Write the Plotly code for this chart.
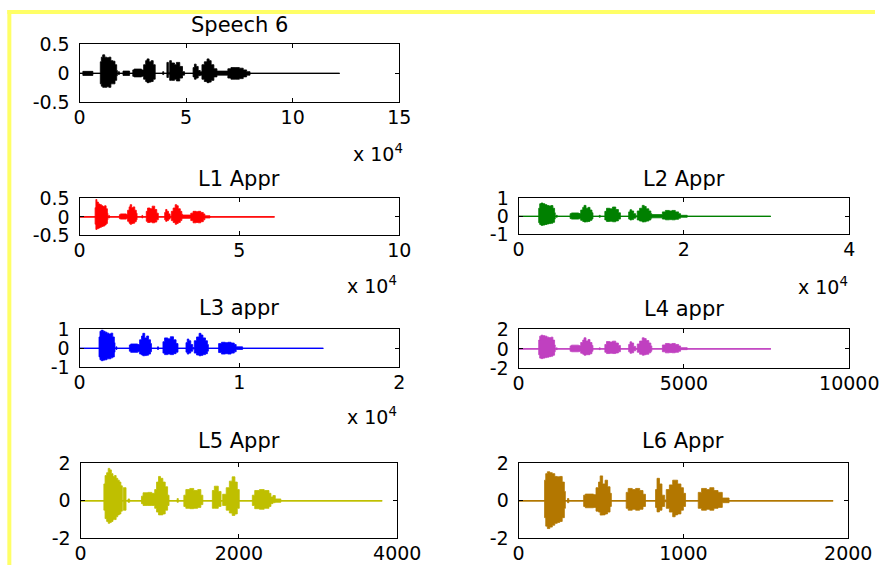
import plotly.graph_objects as go

# calibration: the photographed page shows the figure slightly scaled after the body margin
SX, SY = 0.958, 0.962
MX, MY = 8, 11
W, H = 905, 576

# ---------------- data (envelopes) ----------------
# Speech 6 (samples, amplitude)
sp_len = 122000
sp_x  = [0, 1570, 6270, 9760, 10240, 10880, 11840, 12800, 13760, 14720, 15680, 16640, 17440, 17760, 18240, 18720,
         20400, 23500, 25000, 25600, 29120, 30080, 31040, 31680, 32640, 33600, 34560, 35520, 39040, 39520,
         41000, 41700, 42300, 43100, 44560, 45440, 47040, 48320, 49280, 53280, 53920, 54720, 55680, 56640,
         57440, 58560, 59840, 60800, 61760, 63040, 64480, 69600, 71040, 73000, 75000, 76800, 78400, 80000]
sp_up = [0, 0.035, 0, 0.2, 0.28, 0.32, 0.28, 0.27, 0.28, 0.22, 0.21, 0.15, 0.05, 0, 0.03, 0,
         0.04, 0, 0.06, 0.075, 0.06, 0.15, 0.22, 0.25, 0.2, 0.22, 0.15, 0, 0.03, 0,
         0.19, 0.02, 0.22, 0.18, 0.15, 0.19, 0.12, 0.03, 0, 0.1, 0.16, 0.12, 0.05, 0.03,
         0.15, 0.2, 0.25, 0.22, 0.15, 0.08, 0.04, 0.08, 0.1, 0.1, 0.09, 0.06, 0.03, 0]
sp_lo = [0, -0.035, 0, -0.18, -0.22, -0.24, -0.24, -0.23, -0.24, -0.18, -0.18, -0.12, -0.04, 0, -0.02, 0,
         -0.035, 0, -0.05, -0.06, -0.05, -0.1, -0.14, -0.16, -0.15, -0.14, -0.1, 0, -0.02, 0,
         -0.07, -0.02, -0.12, -0.12, -0.1, -0.13, -0.08, -0.03, 0, -0.06, -0.1, -0.08, -0.04, -0.03,
         -0.1, -0.14, -0.16, -0.15, -0.12, -0.06, -0.03, -0.08, -0.1, -0.1, -0.09, -0.06, -0.03, 0]

# L1 approximation
l1_len = 61000
l1_x  = [0, 4880, 5120, 5440, 5920, 6400, 6880, 7360, 7840, 8320, 8720, 8880, 9120, 9360,
         12480, 12800, 14560, 15040, 15520, 15840, 16320, 16800, 17280, 17760, 18000, 19520, 19760,
         20880, 21280, 22080, 22720, 23520, 24160, 24640, 26640, 26960, 27360, 27840, 28320,
         28720, 29280, 29920, 30400, 30880, 31520, 32000, 32240, 34800, 35520, 36480, 37120, 37920,
         38720, 39200, 40800]
l1_up = [0, 0.25, 0.47, 0.4, 0.35, 0.33, 0.3, 0.28, 0.3, 0.22, 0.1, 0, 0.04, 0,
         0.06, 0.08, 0.07, 0.18, 0.27, 0.33, 0.25, 0.27, 0.18, 0.1, 0, 0.04, 0,
         0.15, 0.24, 0.22, 0.29, 0.2, 0.1, 0, 0.12, 0.2, 0.15, 0.08, 0.02,
         0.15, 0.24, 0.33, 0.3, 0.22, 0.15, 0.07, 0.05, 0.1, 0.15, 0.14, 0.15, 0.12,
         0.08, 0.03, 0]
l1_lo = [0, -0.2, -0.34, -0.32, -0.3, -0.28, -0.26, -0.25, -0.22, -0.18, -0.08, 0, -0.03, 0,
         -0.05, -0.06, -0.05, -0.12, -0.17, -0.2, -0.18, -0.17, -0.13, -0.08, 0, -0.03, 0,
         -0.12, -0.15, -0.14, -0.16, -0.14, -0.08, 0, -0.08, -0.12, -0.1, -0.06, -0.02,
         -0.1, -0.15, -0.2, -0.18, -0.15, -0.1, -0.05, -0.04, -0.1, -0.16, -0.15, -0.16, -0.13,
         -0.08, -0.03, 0]

# L2 approximation
l2_len = 30500
l2_x  = [0, 2440, 2560, 2720, 2960, 3200, 3440, 3680, 3920, 4160, 4360, 4440, 4560, 4680,
         6240, 6400, 7280, 7520, 7760, 7920, 8160, 8400, 8640, 8880, 9000, 9760, 9880,
         10440, 10640, 11040, 11360, 11760, 12080, 12320, 13320, 13480, 13680, 13920, 14160,
         14360, 14640, 14960, 15200, 15440, 15760, 16000, 16120, 17400, 17760, 18240, 18560,
         18960, 19360, 19600, 20400]
l2_up = [0, 0.45, 0.7, 0.74, 0.7, 0.65, 0.6, 0.58, 0.6, 0.45, 0.2, 0, 0.06, 0,
         0.15, 0.19, 0.16, 0.35, 0.5, 0.61, 0.45, 0.5, 0.35, 0.2, 0, 0.06, 0,
         0.28, 0.45, 0.42, 0.52, 0.38, 0.2, 0, 0.25, 0.37, 0.3, 0.15, 0.03,
         0.3, 0.45, 0.61, 0.55, 0.42, 0.3, 0.15, 0.1, 0.25, 0.33, 0.3, 0.33,
         0.25, 0.15, 0.06, 0]
l2_lo = [0, -0.35, -0.45, -0.5, -0.48, -0.45, -0.42, -0.4, -0.38, -0.33, -0.15, 0, -0.05, 0,
         -0.12, -0.15, -0.13, -0.22, -0.28, -0.31, -0.3, -0.28, -0.22, -0.14, 0, -0.05, 0,
         -0.2, -0.28, -0.27, -0.3, -0.25, -0.15, 0, -0.15, -0.2, -0.18, -0.1, -0.03,
         -0.2, -0.26, -0.31, -0.3, -0.26, -0.2, -0.1, -0.08, -0.15, -0.19, -0.18, -0.19,
         -0.16, -0.1, -0.05, 0]

# L3 approximation
l3_len = 15250
l3_x  = [0, 1220, 1280, 1360, 1480, 1600, 1720, 1840, 1960, 2080, 2180, 2220, 2280, 2340,
         3120, 3200, 3640, 3760, 3880, 3960, 4080, 4200, 4320, 4440, 4500, 4880, 4940,
         5220, 5320, 5520, 5680, 5880, 6040, 6160, 6660, 6740, 6840, 6960, 7080,
         7180, 7320, 7480, 7600, 7720, 7880, 8000, 8060, 8700, 8880, 9120, 9280,
         9480, 9680, 9800, 10200]
l3_up = [0, 0.6, 0.9, 0.96, 0.9, 0.85, 0.8, 0.75, 0.8, 0.6, 0.3, 0, 0.08, 0,
         0.18, 0.23, 0.2, 0.45, 0.65, 0.79, 0.55, 0.65, 0.45, 0.25, 0, 0.08, 0,
         0.35, 0.55, 0.5, 0.61, 0.45, 0.25, 0, 0.3, 0.49, 0.4, 0.2, 0.04,
         0.4, 0.6, 0.79, 0.7, 0.55, 0.4, 0.2, 0, 0.25, 0.32, 0.3, 0.32,
         0.28, 0.2, 0.08, 0]
l3_lo = [0, -0.45, -0.6, -0.65, -0.62, -0.6, -0.55, -0.55, -0.5, -0.45, -0.2, 0, -0.06, 0,
         -0.15, -0.21, -0.18, -0.3, -0.35, -0.39, -0.38, -0.36, -0.3, -0.18, 0, -0.06, 0,
         -0.25, -0.33, -0.3, -0.33, -0.28, -0.2, 0, -0.2, -0.3, -0.25, -0.15, -0.04,
         -0.25, -0.35, -0.39, -0.37, -0.33, -0.28, -0.15, 0, -0.22, -0.3, -0.28, -0.3,
         -0.25, -0.18, -0.06, 0]

# L4 approximation
l4_len = 7630
l4_x  = [0, 610, 640, 680, 740, 800, 860, 920, 980, 1040, 1090, 1110, 1140, 1170,
         1560, 1600, 1820, 1880, 1940, 1980, 2040, 2100, 2160, 2220, 2250, 2440, 2470,
         2610, 2660, 2760, 2840, 2940, 3020, 3080, 3330, 3370, 3420, 3480, 3540,
         3590, 3660, 3740, 3800, 3860, 3940, 4000, 4030, 4350, 4440, 4560, 4640,
         4740, 4840, 4900, 5100]
l4_up = [0, 0.9, 1.3, 1.4, 1.35, 1.3, 1.2, 1.15, 1.2, 0.9, 0.4, 0, 0.1, 0,
         0.3, 0.38, 0.33, 0.65, 0.9, 1.13, 0.8, 0.95, 0.65, 0.35, 0, 0.1, 0,
         0.45, 0.75, 0.7, 0.79, 0.6, 0.35, 0, 0.45, 0.72, 0.6, 0.25, 0.05,
         0.5, 0.8, 1.13, 1.05, 0.85, 0.6, 0.3, 0, 0.4, 0.55, 0.5, 0.55,
         0.45, 0.3, 0.12, 0]
l4_lo = [0, -0.6, -0.95, -1.0, -0.95, -0.9, -0.85, -0.8, -0.75, -0.65, -0.3, 0, -0.08, 0,
         -0.25, -0.3, -0.28, -0.45, -0.55, -0.65, -0.6, -0.6, -0.5, -0.25, 0, -0.08, 0,
         -0.35, -0.48, -0.45, -0.48, -0.42, -0.3, 0, -0.3, -0.45, -0.4, -0.2, -0.05,
         -0.35, -0.55, -0.65, -0.6, -0.55, -0.4, -0.25, 0, -0.3, -0.41, -0.38, -0.4,
         -0.35, -0.25, -0.08, 0]

# L5 approximation
l5_len = 3810
l5_x  = [0, 295, 310, 330, 350, 370, 390, 410, 430, 450, 470, 490, 510, 528, 540, 575, 600, 620,
         770, 790, 850, 900, 937, 960, 985, 1010, 1040, 1070, 1100, 1118, 1220, 1235,
         1305, 1330, 1380, 1430, 1480, 1520, 1545, 1665, 1690, 1740, 1775,
         1795, 1840, 1880, 1915, 1950, 1980, 2005, 2170, 2200, 2260, 2320, 2380, 2405,
         2430, 2460, 2530]
l5_up = [0, 0.9, 1.35, 1.5, 1.73, 1.65, 1.45, 1.3, 1.35, 1.2, 1.1, 1.0, 0.8, 0, 0.7, 0, 0.1, 0,
         0.25, 0.43, 0.45, 0.4, 0.6, 1.0, 1.3, 1.2, 1.0, 0.75, 0.3, 0, 0.12, 0,
         0.3, 0.6, 0.66, 0.55, 0.6, 0.3, 0, 0.55, 0.78, 0.5, 0,
         0.35, 0.7, 1.05, 1.28, 1.0, 0.6, 0, 0.3, 0.55, 0.6, 0.55, 0.4, 0.2,
         0.28, 0.1, 0]
l5_lo = [0, -0.5, -0.95, -1.1, -1.2, -1.15, -1.1, -1.0, -1.0, -0.85, -0.75, -0.7, -0.55, 0, -0.5, 0, -0.08, 0,
         -0.15, -0.25, -0.25, -0.25, -0.4, -0.6, -0.75, -0.75, -0.7, -0.5, -0.25, 0, -0.08, 0,
         -0.3, -0.4, -0.42, -0.4, -0.35, -0.2, 0, -0.4, -0.4, -0.3, 0,
         -0.25, -0.5, -0.65, -0.78, -0.7, -0.4, 0, -0.25, -0.42, -0.45, -0.4, -0.3, -0.15,
         -0.1, -0.08, 0]

# L6 approximation
l6_len = 1908
l6_x  = [0, 158, 165, 175, 190, 205, 220, 235, 250, 265, 278, 284, 297, 305,
         395, 405, 455, 470, 485, 495, 510, 525, 540, 555, 563,
         653, 665, 690, 710, 735, 755, 770, 831, 840, 855, 870, 886,
         896, 915, 935, 950, 965, 985, 1000, 1013,
         1090, 1110, 1140, 1160, 1185, 1210, 1236, 1277]
l6_up = [0, 1.1, 1.45, 1.55, 1.5, 1.45, 1.3, 1.28, 1.3, 1.0, 0.5, 0, 0.12, 0,
         0.3, 0.36, 0.33, 0.7, 1.0, 1.33, 0.9, 1.1, 0.75, 0.4, 0,
         0.45, 0.66, 0.6, 0.66, 0.55, 0.35, 0, 0.6, 1.2, 0.9, 0.3, 0.05,
         0.6, 0.85, 1.1, 1.1, 0.9, 0.7, 0.4, 0,
         0.45, 0.66, 0.6, 0.7, 0.55, 0.45, 0.15, 0]
l6_lo = [0, -0.9, -1.35, -1.48, -1.4, -1.3, -1.2, -1.15, -1.1, -0.9, -0.4, 0, -0.1, 0,
         -0.3, -0.37, -0.35, -0.55, -0.6, -0.76, -0.75, -0.7, -0.6, -0.3, 0,
         -0.4, -0.5, -0.45, -0.5, -0.45, -0.3, 0, -0.35, -0.59, -0.5, -0.3, -0.05,
         -0.4, -0.6, -0.85, -0.75, -0.7, -0.5, -0.3, 0,
         -0.4, -0.5, -0.45, -0.5, -0.4, -0.35, -0.1, 0]

titles = ["Speech 6", "L1 Appr", "L2 Appr", "L3 appr", "L4 appr", "L5 Appr", "L6 Appr"]
colors = ["#000000", "#ff0000", "#008000", "#0000ff", "#c040c0", "#bfbf00", "#b37700"]

x_ranges = [[0, 150000], [0, 100000], [0, 40000], [0, 20000], [0, 10000], [0, 4000], [0, 2000]]
x_tickvals = [[0, 50000, 100000, 150000], [0, 50000, 100000], [0, 20000, 40000], [0, 10000, 20000],
              [0, 5000, 10000], [0, 2000, 4000], [0, 1000, 2000]]
x_ticktext = [["0", "5", "10", "15"], ["0", "5", "10"], ["0", "2", "4"], ["0", "1", "2"],
              ["0", "5000", "10000"], ["0", "2000", "4000"], ["0", "1000", "2000"]]
y_ranges = [[-0.5, 0.5], [-0.5, 0.5], [-1, 1], [-1, 1], [-2, 2], [-2, 2], [-2, 2]]
y_tickvals = [[-0.5, 0, 0.5], [-0.5, 0, 0.5], [-1, 0, 1], [-1, 0, 1], [-2, 0, 2], [-2, 0, 2], [-2, 0, 2]]
y_ticktext = [["-0.5", "0", "0.5"], ["-0.5", "0", "0.5"], ["-1", "0", "1"], ["-1", "0", "1"],
              ["-2", "0", "2"], ["-2", "0", "2"], ["-2", "0", "2"]]
exp_label = "x 10<sup>4</sup>"

panels = [
    (sp_len, sp_x, sp_up, sp_lo),
    (l1_len, l1_x, l1_up, l1_lo),
    (l2_len, l2_x, l2_up, l2_lo),
    (l3_len, l3_x, l3_up, l3_lo),
    (l4_len, l4_x, l4_up, l4_lo),
    (l5_len, l5_x, l5_up, l5_lo),
    (l6_len, l6_x, l6_up, l6_lo),
]

# ---------------- layout geometry (target picture pixels) ----------------
boxes = [  # x0, x1, y0(top), y1(bottom)
    (81, 400, 44, 102),
    (81, 400, 198, 235),
    (519, 849, 198, 234),
    (81, 400, 329, 367),
    (519, 849, 329, 368),
    (82, 398, 463, 538),
    (519, 848, 463, 538),
]
title_y = [25, 179, 179, 308, 309, 441, 441]

def px(x):
    return (x / SX - MX) / W

def py(y):
    return 1 - (y / SY - MY) / H

FONT = "DejaVu Sans"
fig = go.Figure()
layout = dict(width=W, height=H, autosize=False, margin=dict(l=0, r=0, t=0, b=0),
              paper_bgcolor="white", plot_bgcolor="white", showlegend=False)

annotations = []
for i, ((n, xs, up, lo), (x0, x1, y0, y1)) in enumerate(zip(panels, boxes)):
    k = "" if i == 0 else str(i + 1)
    xa, ya = "x" + k, "y" + k
    c = colors[i]
    fig.add_trace(go.Scatter(x=[0, n], y=[0, 0], mode="lines", line=dict(color=c, width=1.4),
                             xaxis=xa, yaxis=ya, hoverinfo="skip"))
    fig.add_trace(go.Scatter(x=xs + [n], y=lo + [0], mode="lines", line=dict(color=c, width=0.8, shape="hv"),
                             xaxis=xa, yaxis=ya, hoverinfo="skip"))
    fig.add_trace(go.Scatter(x=xs + [n], y=up + [0], mode="lines", line=dict(color=c, width=0.8, shape="hv"),
                             fill="tonexty", fillcolor=c, xaxis=xa, yaxis=ya, hoverinfo="skip"))
    axcommon = dict(showline=True, mirror="allticks", linecolor="black", linewidth=1,
                    ticks="inside", ticklen=4, tickcolor="black", showgrid=False, zeroline=False,
                    tickfont=dict(family=FONT, size=19, color="black"))
    layout["xaxis" + k] = dict(axcommon, domain=[px(x0), px(x1)], range=x_ranges[i], anchor=ya,
                               tickmode="array", tickvals=x_tickvals[i], ticktext=x_ticktext[i],
                               ticklabelstandoff=-2)
    layout["yaxis" + k] = dict(axcommon, domain=[py(y1), py(y0)], range=y_ranges[i], anchor=xa,
                               tickmode="array", tickvals=y_tickvals[i], ticktext=y_ticktext[i],
                               ticklabelstandoff=5)
    annotations.append(dict(text=titles[i], xref="paper", yref="paper", x=px((x0 + x1) / 2),
                            y=py(title_y[i]), xanchor="center", yanchor="middle", showarrow=False,
                            font=dict(family=FONT, size=21, color="black")))

for (xr, yc) in [(406, 153), (400, 285), (850, 286), (400, 416)]:
    annotations.append(dict(text=exp_label, xref="paper", yref="paper", x=px(xr), y=py(yc),
                            xanchor="right", yanchor="middle", showarrow=False,
                            font=dict(family=FONT, size=19, color="black")))

layout["annotations"] = annotations
layout["shapes"] = [
    dict(type="line", xref="paper", yref="paper", x0=px(9), x1=1, y0=py(11.5), y1=py(11.5),
         line=dict(color="#ffff66", width=4)),
    dict(type="line", xref="paper", yref="paper", x0=px(11), x1=px(11), y0=py(9.5), y1=0,
         line=dict(color="#ffff66", width=4)),
]
fig.update_layout(**layout)
fig.write_html("out.html")
